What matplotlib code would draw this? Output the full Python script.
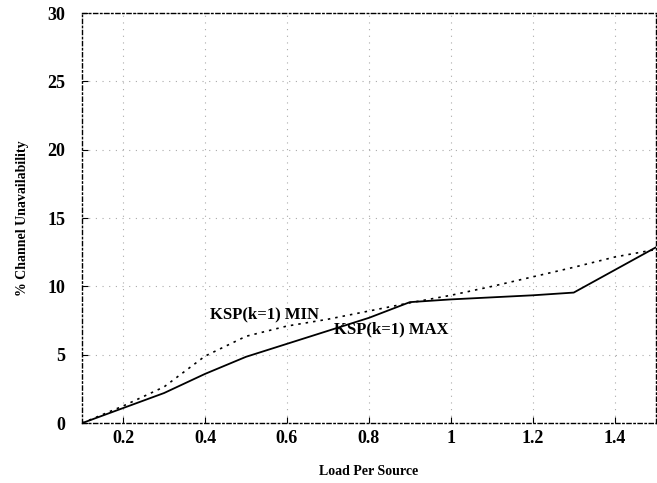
import matplotlib
matplotlib.use("Agg")
import matplotlib.pyplot as plt

load = [0.1, 0.2, 0.3, 0.4, 0.5, 0.6, 0.7, 0.8, 0.9, 1.0, 1.1, 1.2, 1.3, 1.4, 1.5]
ksp_max = [0.0, 1.1, 2.2, 3.6, 4.85, 5.8, 6.75, 7.7, 8.85, 9.05, 9.2, 9.35, 9.55, 11.2, 12.85]
ksp_min = [0.0, 1.25, 2.65, 4.9, 6.35, 7.1, 7.6, 8.2, 8.8, 9.35, 10.0, 10.7, 11.4, 12.15, 12.7]

xticks = [0.2, 0.4, 0.6, 0.8, 1.0, 1.2, 1.4]
xticklabels = ["0.2", "0.4", "0.6", "0.8", "1", "1.2", "1.4"]
yticks = [0, 5, 10, 15, 20, 25, 30]

plt.rcParams['font.family'] = ['Liberation Serif', 'DejaVu Serif']

fig = plt.figure(figsize=(6.57, 4.83), dpi=100)
ax = fig.add_axes([0.125, 0.124, 0.873, 0.849])

ax.plot(load, ksp_max, color='black', linewidth=1.3, linestyle='-')
ax.plot(load, ksp_min, color='black', linewidth=1.2, linestyle=(0, (1.5, 3)))

ax.set_xlim(0.1, 1.5)
ax.set_ylim(0, 30)
ax.set_xticks(xticks)
ax.set_xticklabels(xticklabels)
ax.set_yticks(yticks)
ax.grid(True, color='#aaaaaa', linestyle=(0, (1, 5)), linewidth=0.8)
for s in ax.spines.values():
    s.set_linestyle((0, (3, 2, 1, 2)))
    s.set_linewidth(1.0)
ax.tick_params(axis='x', direction='in', length=4, labelsize=13, pad=5)
ax.tick_params(axis='y', direction='in', length=4, labelsize=13, pad=12)
for lab in ax.get_xticklabels() + ax.get_yticklabels():
    lab.set_fontweight('bold')

ax.text(0.412, 7.4, "KSP(k=1) MIN", fontsize=12, fontweight='bold', ha='left', va='bottom')
ax.text(0.715, 6.3, "KSP(k=1) MAX", fontsize=12, fontweight='bold', ha='left', va='bottom')

ax.set_xlabel("Load Per Source", fontsize=10, fontweight='bold', labelpad=13)
ax.set_ylabel("% Channel Unavailability", fontsize=10, fontweight='bold', labelpad=13)

fig.savefig("out.png", dpi=100)
